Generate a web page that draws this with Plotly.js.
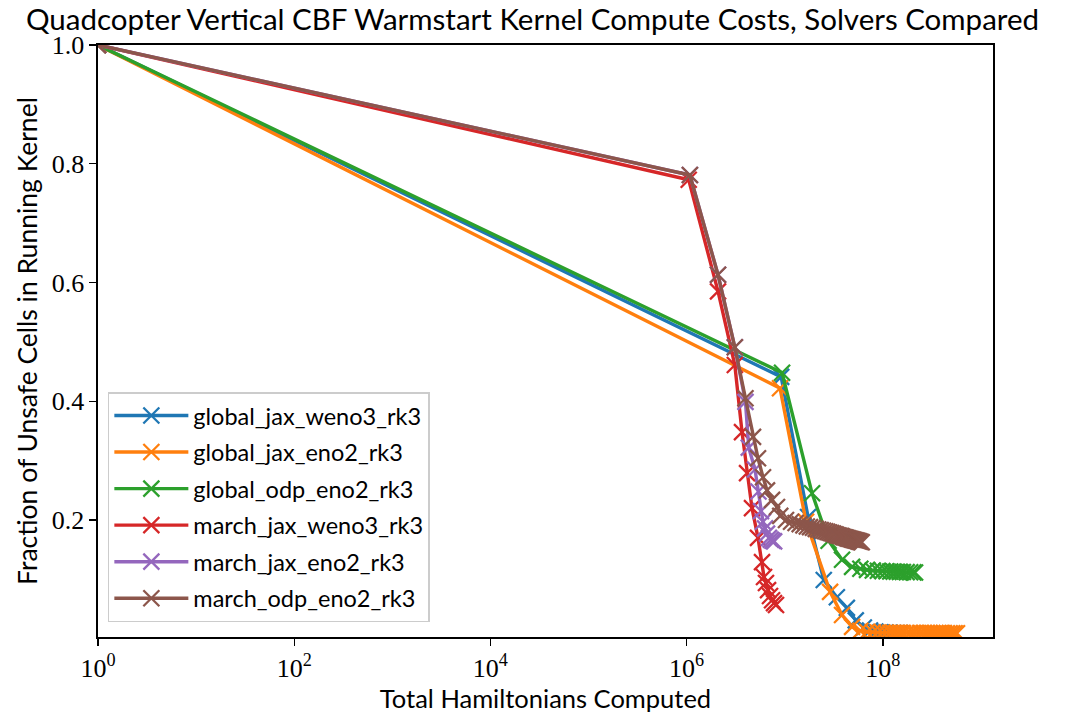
<!DOCTYPE html>
<html>
<head>
<meta charset="utf-8">
<script src="https://cdn.plot.ly/plotly-3.0.1.min.js"></script>
<style>html,body{margin:0;padding:0;background:#fff;}#chart{width:1065px;height:717px;}</style>
</head>
<body>
<div id="chart"></div>
<script>
// ---- data ----
const seriesNames = ["global_jax_weno3_rk3","global_jax_eno2_rk3","global_odp_eno2_rk3","march_jax_weno3_rk3","march_jax_eno2_rk3","march_odp_eno2_rk3"];
const seriesColors = ["#1f77b4","#ff7f0e","#2ca02c","#d62728","#9467bd","#8c564b"];

const xGlobalJaxWeno3 = [1, 9.2e6, 1.73e7, 2.5e7, 3.4e7, 4.3e7, 5.3e7, 6.4e7, 7.4e7, 8.4e7, 9.5e7, 1.06e8, 1.17e8, 1.28e8, 1.39e8, 1.5e8];
const yGlobalJaxWeno3 = [1.0, 0.441, 0.205, 0.099, 0.070, 0.052, 0.031, 0.019, 0.014, 0.012, 0.011, 0.0105, 0.0101, 0.0098, 0.0096, 0.0095];

const xGlobalJaxEno2 = [1, 8.95e6, 1.65e7, 2.9e7, 3.84e7, 4.86e7, 5.9e7, 6.9e7, 7.9e7, 8.9e7, 9.9e7, 1.09e8, 1.19e8, 1.29e8, 1.39e8, 1.49e8, 1.6e8, 1.75e8, 1.9e8, 2.05e8, 2.2e8, 2.4e8, 2.6e8, 2.8e8, 3.0e8, 3.2e8, 3.45e8, 3.7e8, 3.95e8, 4.2e8, 4.5e8, 4.8e8, 5.1e8, 5.4e8, 5.7e8];
const yGlobalJaxEno2 = [1.0, 0.422, 0.197, 0.079, 0.040, 0.020, 0.0135, 0.0118, 0.0110, 0.0106, 0.0104, 0.0102, 0.0101, 0.0100, 0.0099, 0.0099, 0.0098, 0.0098, 0.0097, 0.0097, 0.0097, 0.0096, 0.0096, 0.0096, 0.0096, 0.0095, 0.0095, 0.0095, 0.0095, 0.0095, 0.0094, 0.0094, 0.0094, 0.0094, 0.0094];

const xGlobalOdpEno2 = [1, 9.4e6, 1.9e7, 2.8e7, 3.84e7, 4.86e7, 5.9e7, 6.9e7, 7.9e7, 8.9e7, 9.9e7, 1.09e8, 1.19e8, 1.29e8, 1.39e8, 1.49e8, 1.6e8, 1.75e8, 1.9e8, 2.05e8, 2.13e8];
const yGlobalOdpEno2 = [1.0, 0.448, 0.245, 0.165, 0.133, 0.121, 0.118, 0.116, 0.115, 0.1145, 0.114, 0.1137, 0.1134, 0.1131, 0.1128, 0.1126, 0.1124, 0.1122, 0.112, 0.1118, 0.1116];

const xMarchJaxWeno3 = [1, 1.05e6, 2.09e6, 3.1e6, 3.67e6, 4.13e6, 4.64e6, 5.34e6, 5.87e6, 6.15e6, 6.44e6, 6.76e6, 7.08e6, 7.43e6, 7.78e6, 8.15e6];
const yMarchJaxWeno3 = [1.0, 0.773, 0.585, 0.461, 0.348, 0.279, 0.220, 0.170, 0.129, 0.104, 0.094, 0.082, 0.072, 0.065, 0.060, 0.057];

const xMarchJaxEno2 = [1, 1.08e6, 2.09e6, 3.1e6, 3.98e6, 4.3e6, 4.98e6, 5.4e6, 5.73e6, 6.0e6, 6.3e6, 6.6e6, 6.9e6, 7.2e6, 7.5e6, 7.8e6];
const yMarchJaxEno2 = [1.0, 0.781, 0.613, 0.491, 0.399, 0.322, 0.285, 0.248, 0.215, 0.197, 0.186, 0.177, 0.170, 0.167, 0.165, 0.164];

const xMarchOdpEno2 = [1, 1.08e6, 2.09e6, 3.1e6, 3.98e6, 4.75e6, 5.34e6, 6.01e6, 6.6e6, 7.43e6, 8.34e6,
  9.0e6, 10.3e6, 11.6e6, 12.9e6, 14.2e6, 15.5e6, 16.8e6, 18.1e6, 19.4e6, 20.7e6, 22.0e6, 23.3e6, 24.6e6, 25.9e6, 27.2e6, 28.5e6, 29.8e6, 31.1e6, 32.4e6, 33.7e6, 35.0e6, 36.3e6, 37.6e6, 38.9e6, 40.2e6, 41.5e6, 42.8e6, 44.1e6, 45.4e6, 46.7e6, 48.0e6, 49.3e6, 50.6e6, 51.9e6, 53.2e6, 54.5e6, 55.8e6, 57.1e6, 58.4e6, 59.7e6, 61.0e6];
const yMarchOdpEno2 = [1.0, 0.781, 0.613, 0.491, 0.405, 0.340, 0.304, 0.272, 0.250, 0.234, 0.222,
  0.207, 0.200, 0.197, 0.195, 0.193, 0.191, 0.189, 0.188, 0.187, 0.185, 0.184, 0.183, 0.182, 0.181, 0.180, 0.179, 0.178, 0.177, 0.176, 0.175, 0.174, 0.1735, 0.173, 0.172, 0.171, 0.1705, 0.170, 0.169, 0.1685, 0.168, 0.1675, 0.167, 0.1665, 0.166, 0.1655, 0.165, 0.1645, 0.164, 0.1635, 0.163, 0.1625];

const xTickVals = [1, 1e2, 1e4, 1e6, 1e8];
const xTickText = ["10<sup>0</sup>", "10<sup>2</sup>", "10<sup>4</sup>", "10<sup>6</sup>", "10<sup>8</sup>"];
const yTickVals = [0.2, 0.4, 0.6, 0.8, 1.0];
const yTickText = ["0.2", "0.4", "0.6", "0.8", "1.0"];

const xs = [xGlobalJaxWeno3, xGlobalJaxEno2, xGlobalOdpEno2, xMarchJaxWeno3, xMarchJaxEno2, xMarchOdpEno2];
const ys = [yGlobalJaxWeno3, yGlobalJaxEno2, yGlobalOdpEno2, yMarchJaxWeno3, yMarchJaxEno2, yMarchOdpEno2];

const sansFont = "Lato, 'DejaVu Sans', sans-serif";
const serifFont = "'Liberation Serif', 'DejaVu Serif', serif";

const traces = seriesNames.map((name, i) => ({
  type: "scatter",
  mode: "lines+markers",
  name: name,
  legendgroup: "g" + i,
  x: xs[i],
  y: ys[i],
  line: {color: seriesColors[i], width: 3.4},
  marker: {symbol: "x-thin", size: 16, color: seriesColors[i], line: {color: seriesColors[i], width: 2.3}}
}));

const layout = {
  width: 1065, height: 717,
  paper_bgcolor: "#fff", plot_bgcolor: "#fff",
  margin: {l: 98, r: 72, t: 45, b: 80},
  title: {text: "Quadcopter Vertical CBF Warmstart Kernel Compute Costs, Solvers Compared",
          font: {family: sansFont, size: 29.5, color: "#000"},
          x: 0.5, xref: "container", xanchor: "center", y: 0.972, yref: "container", yanchor: "middle"},
  showlegend: true,
  legend: {x: 0.011, y: 0.025, xanchor: "left", yanchor: "bottom",
           bgcolor: "rgba(255,255,255,0.8)", bordercolor: "#cccccc", borderwidth: 1.5,
           font: {family: sansFont, size: 23.5, color: "#000"},
           traceorder: "grouped", tracegroupgap: 3, itemwidth: 74},
  xaxis: {type: "log", range: [0, 9.123], tickmode: "array", tickvals: xTickVals, ticktext: xTickText,
          showline: true, linecolor: "#000", linewidth: 1.6, mirror: true,
          ticks: "outside", ticklen: 7, tickwidth: 1.4, tickcolor: "#000",
          showgrid: false, zeroline: false,
          tickfont: {family: serifFont, size: 26, color: "#000"},
          title: {text: "Total Hamiltonians Computed", font: {family: sansFont, size: 25.5, color: "#000"}, standoff: 6}},
  yaxis: {range: [0.003, 1.0], tickmode: "array", tickvals: yTickVals, ticktext: yTickText,
          showline: true, linecolor: "#000", linewidth: 1.6, mirror: true,
          ticks: "outside", ticklen: 7, tickwidth: 1.4, tickcolor: "#000",
          showgrid: false, zeroline: false,
          tickfont: {family: serifFont, size: 26, color: "#000"},
          title: {text: "Fraction of Unsafe Cells in Running Kernel", font: {family: sansFont, size: 26.5, color: "#000"}, standoff: 6}}
};

Plotly.newPlot("chart", traces, layout, {displayModeBar: false, staticPlot: true});
</script>
</body>
</html>
